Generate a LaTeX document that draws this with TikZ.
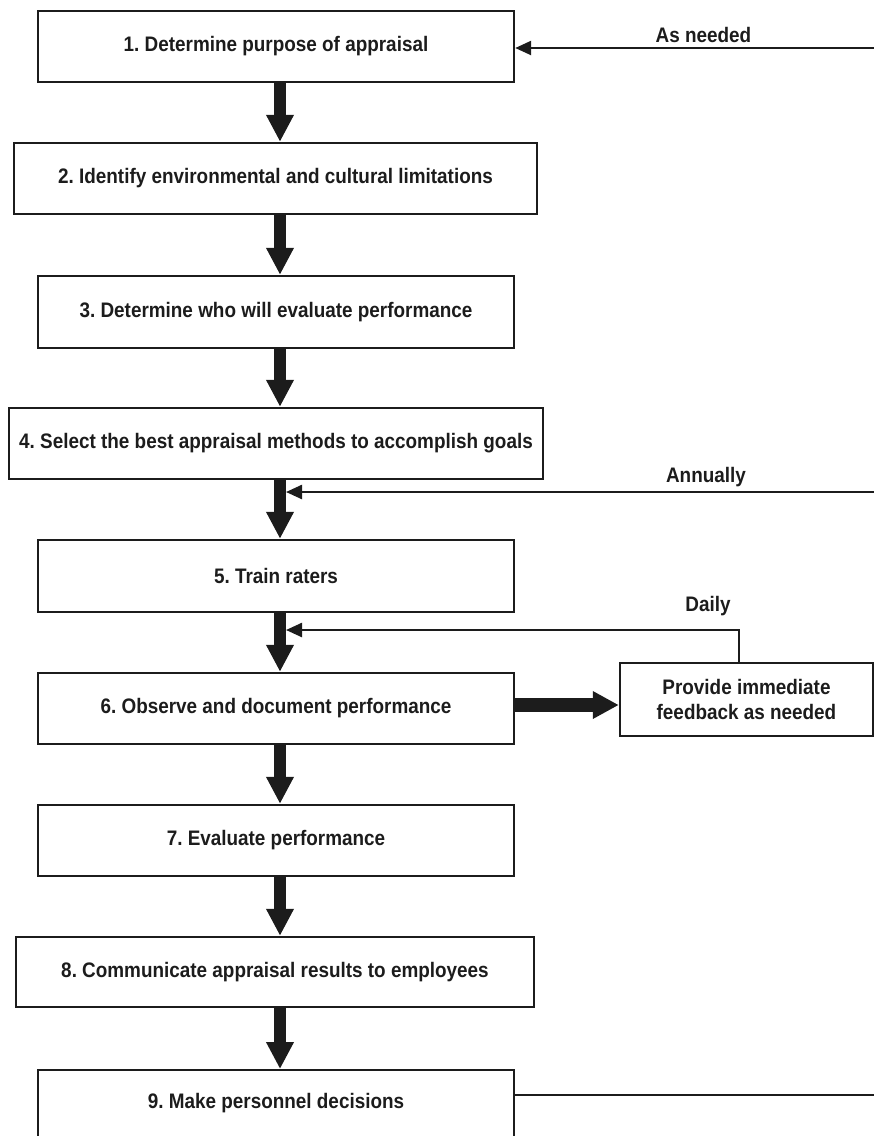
\documentclass[tikz,border=0pt]{standalone}
\usepackage{fontspec}
\setmainfont{Liberation Sans}[FakeStretch=0.9]
\usetikzlibrary{arrows.meta}
\definecolor{ink}{HTML}{1C1C1C}
\frenchspacing
\begin{document}
\begin{tikzpicture}[x=1pt,y=-1pt,
  every node/.style={text=ink, font=\fontsize{21}{25}\selectfont\bfseries},
  stepbox/.style={draw=ink, line width=2.4pt, rectangle, inner sep=0pt, align=center},
  flowarrow/.style={draw=ink, line width=12pt, -{Triangle[length=27pt,width=26pt]}},
  sidearrow/.style={draw=ink, line width=14pt, -{Triangle[length=26pt,width=26pt]}},
  loopline/.style={draw=ink, line width=2.4pt},
  looparrow/.style={loopline, -{Triangle[length=16pt,width=14pt]}},
  note/.style={inner sep=0pt}]
\useasboundingbox (0,0) rectangle (874,1136);
\clip (0,0) rectangle (874,1136);

% main sequence of steps
\node[stepbox, minimum width=476pt, minimum height=71pt] (b1) at (276,46.5) {1. Determine purpose of appraisal};
\node[stepbox, minimum width=523pt, minimum height=71pt] (b2) at (275.5,178.5) {2. Identify environmental and cultural limitations};
\node[stepbox, minimum width=476pt, minimum height=72pt] (b3) at (276,312) {3. Determine who will evaluate performance};
\node[stepbox, minimum width=534pt, minimum height=71pt] (b4) at (276,443.5) {4. Select the best appraisal methods to accomplish goals};
\node[stepbox, minimum width=476pt, minimum height=72pt] (b5) at (276,576) {5. Train raters};
\node[stepbox, minimum width=476pt, minimum height=71pt] (b6) at (276,708.5) {6. Observe and document performance};
\node[stepbox, minimum width=476pt, minimum height=71pt] (b7) at (276,840.5) {7. Evaluate performance};
\node[stepbox, minimum width=518pt, minimum height=70pt] (b8) at (275,972) {8. Communicate appraisal results to employees};
\node[stepbox, minimum width=476pt, text height=38.5pt, text depth=40pt, anchor=north] (b9) at (276,1069) {9. Make personnel decisions};

% side box for daily feedback
\node[stepbox, minimum width=253pt, minimum height=73pt] (fb) at (746.5,699.5) {Provide immediate\\feedback as needed};

% helper coordinates
\coordinate (spine) at (280,0);
\coordinate (spineR) at (286,0);
\coordinate (needR) at (874,48);
\coordinate (annR) at (874,492);
\coordinate (daily) at (739,630);
\coordinate (obs) at (0,705);
\coordinate (persR) at (874,1095);

% thick arrows between steps
\foreach \a/\b in {b1/b2,b2/b3,b3/b4,b4/b5,b5/b6,b6/b7,b7/b8,b8/b9}
  \draw[flowarrow] (\a.south -| spine) -- (\b.north -| spine);

% step 6 to feedback
\draw[sidearrow] (b6.east |- obs) -- (fb.west |- obs);

% feedback loops
\draw[looparrow] (needR) -- (needR -| b1.east);
\draw[looparrow] (annR) -- (annR -| spineR);
\draw[looparrow] (fb.north -| daily) -- (daily) -- (daily -| spineR);
\draw[loopline] (b9.east |- persR) -- (persR);

% loop labels
\node[note] (lneed) at (703.5,34.5) {As needed};
\node[note] (lann) at (706,477) {Annually};
\node[note] (ldaily) at (708,606) {Daily};
\end{tikzpicture}
\end{document}
